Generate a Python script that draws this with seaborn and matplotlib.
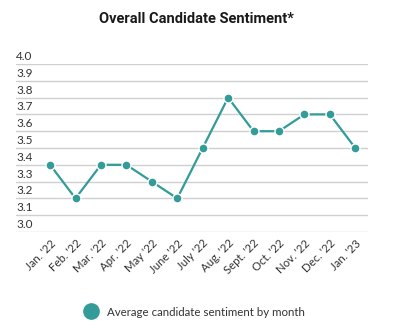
import matplotlib
matplotlib.use("Agg")
import matplotlib.pyplot as plt
import matplotlib.transforms as mtrans
from matplotlib.lines import Line2D
import seaborn as sns
import pandas as pd

months = ["Jan. '22", "Feb. '22", "Mar. '22", "Apr. '22", "May '22", "June '22",
          "July '22", "Aug. '22", "Sept. '22", "Oct. '22", "Nov. '22", "Dec. '22", "Jan. '23"]
sentiment = [3.4, 3.2, 3.4, 3.4, 3.3, 3.2, 3.5, 3.8, 3.6, 3.6, 3.7, 3.7, 3.5]
yticks = [3.0, 3.1, 3.2, 3.3, 3.4, 3.5, 3.6, 3.7, 3.8, 3.9, 4.0]
title = "Overall Candidate Sentiment*"
legend_label = "Average candidate sentiment by month"

sns.set_style("white")
plt.rcParams["font.family"] = ["Lato", "DejaVu Sans"]

color = "#339b98"
df = pd.DataFrame({"month": months, "x": range(len(months)), "value": sentiment})

fig = plt.figure(figsize=(3.93, 3.29), dpi=100)
ax = fig.add_axes([16/393, 1 - 232/329, (368 - 16)/393, (232 - 64)/329])

sns.lineplot(data=df, x="x", y="value", ax=ax, color=color, linewidth=1.6,
             marker="o", markersize=6.5, markeredgecolor="white", markeredgewidth=1.0,
             clip_on=False, zorder=3)

ax.set_ylim(3.0, 4.0)
ax.set_xlim(-1.34, 12.5)
ax.set_yticks(yticks)
ax.set_yticklabels([f"{v:.1f}" for v in yticks], fontsize=8.5, color="#333333")
ax.yaxis.grid(True, color="#cfcfcf", linewidth=1.0)
ax.xaxis.grid(False)
for s in ax.spines.values():
    s.set_visible(False)
ax.tick_params(axis="y", length=0, pad=0)
off = mtrans.ScaledTranslation(0, 1.5/72, fig.dpi_scale_trans)
for lab in ax.get_yticklabels():
    lab.set_horizontalalignment("left")
    lab.set_verticalalignment("bottom")
    lab.set_transform(lab.get_transform() + off)

ax.set_xticks(range(len(months)))
ax.set_xticklabels(months, rotation=45, ha="right", rotation_mode="anchor",
                   fontsize=8.2, color="#333333")
ax.tick_params(axis="x", length=0, pad=4)
ax.set_xlabel("")
ax.set_ylabel("")

fig.text(0.5, 1 - 19/329, title, ha="center", va="center", fontsize=10.5,
         fontweight="bold", color="#1a1a1a", family=["Roboto", "DejaVu Sans"])

handle = Line2D([], [], linestyle="none", marker="o", markersize=11,
                markerfacecolor=color, markeredgecolor=color)
fig.legend([handle], [legend_label], loc="center", bbox_to_anchor=(192/393, 1 - 312/329),
           frameon=False, fontsize=8.3, handletextpad=0.4, labelcolor="#333333")

fig.savefig("out.png", dpi=100)
